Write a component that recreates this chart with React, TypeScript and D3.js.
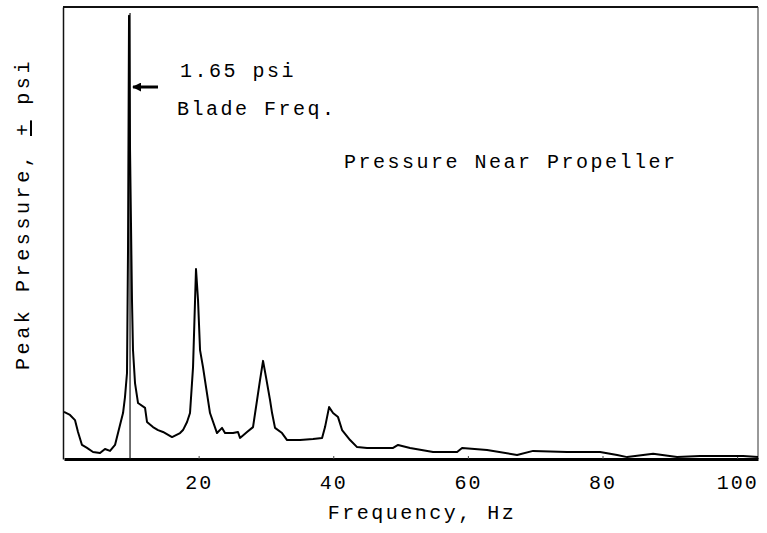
import * as d3 from 'd3';
import { useRef, useEffect } from 'react';

// frequency (Hz)
const freqs = [
    0, 0.89, 1.63, 2.08, 2.67, 3.42, 4.31, 5.35, 6.09, 6.84, 7.58, 8.32, 8.77, 9.06, 9.36, 9.51,
    9.66, 9.81, 10.1, 10.25, 10.55, 11.0, 12.04, 12.33, 13.22, 13.97, 14.71, 16.05, 17.24, 17.68,
    18.28, 18.72, 19.17, 19.47, 19.61, 19.91, 20.21, 20.65, 21.1, 21.69, 22.73, 23.48, 23.92,
    25.11, 25.85, 26.15, 27.19, 28.08, 28.68, 29.12, 29.57, 30.01, 30.61, 30.91, 31.35, 32.39,
    33.14, 35.07, 37.0, 38.34, 38.78, 39.38, 39.97, 40.71, 41.31, 42.5, 43.54, 45.02, 48.89,
    49.63, 51.41, 54.83, 58.4, 59.14, 62.85, 67.31, 69.69, 74.74, 79.64, 82.17, 83.66, 87.52,
    91.08, 94.49, 100.9, 103.1,
];
// peak pressure (psi)
const pressures = [
    0.174, 0.163, 0.144, 0.1, 0.052, 0.041, 0.026, 0.022, 0.037, 0.03, 0.052, 0.126, 0.17, 0.229,
    0.318, 0.773, 1.64, 1.143, 0.588, 0.403, 0.281, 0.207, 0.189, 0.137, 0.118, 0.107, 0.1, 0.081,
    0.096, 0.107, 0.137, 0.17, 0.34, 0.588, 0.703, 0.588, 0.403, 0.34, 0.266, 0.17, 0.096, 0.115,
    0.096, 0.096, 0.1, 0.078, 0.1, 0.118, 0.218, 0.292, 0.363, 0.303, 0.218, 0.17, 0.115, 0.096,
    0.07, 0.07, 0.074, 0.078, 0.118, 0.192, 0.17, 0.155, 0.107, 0.07, 0.044, 0.041, 0.041, 0.052,
    0.041, 0.026, 0.026, 0.041, 0.033, 0.015, 0.03, 0.026, 0.026, 0.015, 0.007, 0.019, 0.007,
    0.011, 0.011, 0.007,
];
const xTicks = [20, 40, 60, 80, 100];
const bladeFreq = 9.81;

const W = 767;
const H = 533;
const FONT = "'Liberation Mono', 'DejaVu Sans Mono', monospace";

export default function App() {
    const svgRef = useRef<SVGSVGElement>(null);

    useEffect(() => {
        if (!svgRef.current) return;
        const svg = d3.select(svgRef.current);
        svg.selectAll('*').remove();

        const x = d3.scaleLinear().domain([0, 103.1]).range([64, 758]);
        const y = d3.scaleLinear().domain([0, 1.672]).range([459, 7]);

        const data = freqs.map((f, i) => ({ f, p: pressures[i] }));

        // frame: top and right
        svg.append('line')
            .attr('x1', x(0) - 1).attr('x2', x(103.1))
            .attr('y1', y(1.672)).attr('y2', y(1.672))
            .attr('stroke', '#111').attr('stroke-width', 2);
        svg.append('line')
            .attr('x1', x(103.1)).attr('x2', x(103.1))
            .attr('y1', y(1.672)).attr('y2', y(0))
            .attr('stroke', '#333').attr('stroke-width', 1);

        // left axis (no ticks)
        svg.append('g')
            .attr('transform', `translate(${x(0) - 1},0)`)
            .call(d3.axisLeft(y).tickValues([]).tickSizeOuter(0))
            .call(g => g.select('.domain').attr('stroke', '#111').attr('stroke-width', 1.5));

        // bottom axis
        svg.append('g')
            .attr('transform', `translate(0,${y(0)})`)
            .call(d3.axisBottom(x).tickValues(xTicks).tickSizeInner(-3).tickSizeOuter(0).tickFormat(d3.format('d')))
            .call(g => g.select('.domain').attr('stroke', '#000').attr('stroke-width', 3))
            .call(g => g.selectAll('.tick line').attr('stroke', '#444').attr('stroke-width', 1))
            .call(g => g.selectAll('.tick text')
                .attr('y', 30).attr('dy', 0)
                .attr('fill', '#000')
                .attr('font-family', FONT).attr('font-size', 20)
                .attr('letter-spacing', 2));

        // blade frequency marker
        svg.append('line')
            .attr('x1', x(bladeFreq)).attr('x2', x(bladeFreq))
            .attr('y1', y(1.65)).attr('y2', y(0))
            .attr('stroke', '#111').attr('stroke-width', 1.2);

        // trace
        const line = d3.line<{ f: number; p: number }>()
            .x(d => x(d.f))
            .y(d => y(d.p));
        svg.append('path')
            .datum(data)
            .attr('d', line)
            .attr('fill', 'none')
            .attr('stroke', '#000')
            .attr('stroke-width', 2)
            .attr('stroke-linejoin', 'round');

        // arrow to marker
        svg.append('defs').append('marker')
            .attr('id', 'arr')
            .attr('viewBox', '0 0 10 10')
            .attr('refX', 9).attr('refY', 5)
            .attr('markerWidth', 3).attr('markerHeight', 3)
            .attr('orient', 'auto')
            .append('path').attr('d', 'M0,0L10,5L0,10Z').attr('fill', '#000');
        svg.append('line')
            .attr('x1', 158).attr('x2', x(bladeFreq) + 3)
            .attr('y1', 87).attr('y2', 87)
            .attr('stroke', '#000').attr('stroke-width', 3)
            .attr('marker-end', 'url(#arr)');

        const txt = (s: string, tx: number, ty: number) =>
            svg.append('text')
                .attr('x', tx).attr('y', ty)
                .attr('font-family', FONT).attr('font-size', 20)
                .attr('letter-spacing', 2.5)
                .attr('fill', '#000')
                .text(s);

        txt('1.65 psi', 180, 77);
        txt('Blade Freq.', 177, 115);
        txt('Pressure Near Propeller', 344, 168);
        txt('Frequency, Hz', 422, 519).attr('text-anchor', 'middle');

        // y label with underlined plus
        const yl = svg.append('text')
            .attr('transform', 'translate(29,214) rotate(-90)')
            .attr('text-anchor', 'middle')
            .attr('font-family', FONT).attr('font-size', 20)
            .attr('letter-spacing', 3.6)
            .attr('fill', '#000');
        yl.append('tspan').text('Peak Pressure, ');
        yl.append('tspan').attr('text-decoration', 'underline').text('+');
        yl.append('tspan').text(' psi');
    }, []);

    return (
        <svg
            ref={svgRef}
            width={W}
            height={H}
            style={{ position: 'absolute', left: 0, top: 0, background: '#fff' }}
        />
    );
}
